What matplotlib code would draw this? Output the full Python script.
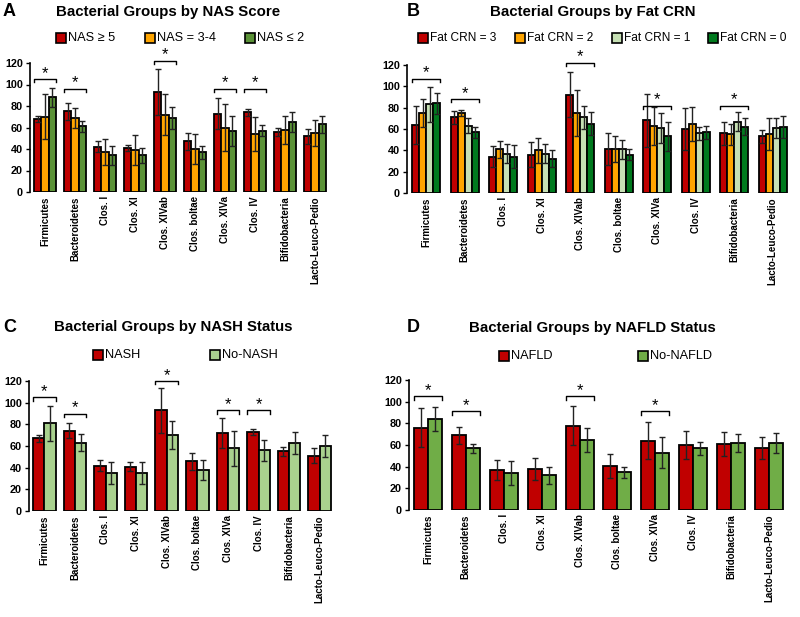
import matplotlib
matplotlib.use('Agg')
import matplotlib.pyplot as plt
import numpy as np
from matplotlib.patches import Rectangle

plt.rcParams['font.family'] = ['Liberation Sans', 'DejaVu Sans']

categories = ['Firmicutes', 'Bacteroidetes', 'Clos. I', 'Clos. XI', 'Clos. XIVab',
              'Clos. boltae', 'Clos. XIVa', 'Clos. IV', 'Bifidobacteria', 'Lacto-Leuco-Pedio']

# A: NAS score
nas_labels = ['NAS \u2265 5', 'NAS = 3-4', 'NAS \u2264 2']
nas_colors = ['#C00000', '#FFA500', '#5B9237']
nas_mean = [[68, 75, 42, 41, 93, 47, 73, 74, 56, 52],
            [70, 69, 37, 39, 72, 40, 60, 54, 58, 55],
            [88, 61, 34, 34, 69, 37, 57, 57, 65, 63]]
nas_err = [[3, 8, 5, 3, 21, 8, 14, 3, 4, 7],
           [21, 9, 12, 14, 19, 14, 22, 16, 13, 12],
           [9, 5, 9, 7, 10, 6, 14, 5, 9, 8]]
nas_sig = [(0, 105), (1, 96), (4, 122), (6, 96), (7, 96)]

# B: Fat CRN
fat_labels = ['Fat CRN = 3', 'Fat CRN = 2', 'Fat CRN = 1', 'Fat CRN = 0']
fat_colors = ['#C00000', '#FFA500', '#C6E0B4', '#007A1E']
fat_mean = [[64, 71, 34, 36, 92, 41, 68, 60, 56, 53],
            [75, 75, 41, 40, 75, 41, 63, 65, 55, 55],
            [83, 63, 37, 37, 71, 41, 61, 56, 67, 61],
            [84, 57, 34, 32, 65, 36, 53, 57, 62, 62]]
fat_err = [[18, 6, 10, 12, 21, 15, 25, 20, 11, 6],
           [13, 3, 8, 12, 22, 12, 18, 16, 10, 15],
           [16, 7, 9, 9, 11, 9, 14, 6, 9, 9],
           [10, 5, 11, 8, 11, 5, 14, 6, 8, 10]]
fat_sig = [(0, 107), (1, 88), (4, 122), (6, 82), (8, 82)]

# C: NASH status
nash_labels = ['NASH', 'No-NASH']
nash_colors = ['#C00000', '#A9D18E']
nash_mean = [[67, 74, 42, 41, 93, 46, 72, 73, 55, 51],
             [81, 63, 35, 35, 70, 38, 58, 56, 63, 60]]
nash_err = [[3, 7, 5, 4, 21, 8, 14, 3, 4, 7],
            [16, 8, 10, 10, 13, 9, 16, 10, 10, 10]]
nash_sig = [(0, 105), (1, 90), (4, 120), (6, 93), (7, 93)]

# D: NAFLD status
nafld_labels = ['NAFLD', 'No-NAFLD']
nafld_colors = ['#C00000', '#70AD47']
nafld_mean = [[76, 69, 37, 38, 78, 41, 64, 60, 61, 57],
              [84, 57, 34, 32, 65, 35, 53, 57, 62, 62]]
nafld_err = [[18, 8, 9, 10, 18, 11, 17, 13, 11, 10],
             [11, 4, 11, 8, 11, 5, 14, 6, 8, 9]]
nafld_sig = [(0, 105), (1, 91), (4, 105), (6, 91)]

# letter, title, series..., axes box (px: left, bottom, width, height), letter pos, title pos,
# legend patch x positions, legend y, legend font size
panels = [
    ('A', 'Bacterial Groups by NAS Score', nas_labels, nas_colors, nas_mean, nas_err, nas_sig,
     [30, 192, 300, 129], (3, 12), (168, 12), [56, 145, 245], 38, 9.2),
    ('B', 'Bacterial Groups by Fat CRN', fat_labels, fat_colors, fat_mean, fat_err, fat_sig,
     [407, 193, 385, 128], (407, 12), (593, 12), [418, 515, 612, 708], 38, 8.6),
    ('C', 'Bacterial Groups by NASH Status', nash_labels, nash_colors, nash_mean, nash_err, nash_sig,
     [29, 511, 306, 130], (3, 327), (173, 327), [93, 210], 355, 9.2),
    ('D', 'Bacterial Groups by NAFLD Status', nafld_labels, nafld_colors, nafld_mean, nafld_err, nafld_sig,
     [409, 510, 379, 130], (407, 328), (592, 328), [499, 638], 356, 9.2),
]

W, H = 800, 617
fig = plt.figure(figsize=(8, 6.17), dpi=100)

for letter, title, labels, colors, means, errs, sigs, box, lpos, tpos, legx, legy, legfs in panels:
    x0, yb, w, h = box
    ax = fig.add_axes([x0 / W, (H - yb) / H, w / W, h / H])
    n = len(labels)
    x = np.arange(len(categories))
    grp = 0.74
    bw = grp / n
    for i in range(n):
        off = -grp / 2 + bw * (i + 0.5)
        ax.bar(x + off, means[i], bw, color=colors[i], edgecolor='black', linewidth=1.3,
               yerr=errs[i], error_kw=dict(ecolor='#222222', elinewidth=1, capsize=2, capthick=1))
    for g, yy in sigs:
        xl, xr = g - grp / 2, g + grp / 2
        ax.plot([xl, xl, xr, xr], [yy - 3, yy, yy, yy - 3], color='black', lw=1, clip_on=False)
        ax.text(g, yy - 1.5, '*', ha='center', va='bottom', fontsize=12)
    ax.set_xlim(-0.5, len(categories) - 0.5)
    ax.set_ylim(0, 120)
    ax.set_yticks(range(0, 121, 20))
    ax.set_xticks(x)
    ax.set_xticklabels(categories, rotation=90, fontsize=7, fontweight='bold')
    for t in ax.get_yticklabels():
        t.set_fontweight('bold')
        t.set_fontsize(7.8)
    ax.tick_params(axis='x', length=0, pad=3)
    ax.tick_params(axis='y', length=3, width=1, pad=2)
    for s in ['top', 'right', 'bottom']:
        ax.spines[s].set_visible(False)
    ax.spines['left'].set_linewidth(1.2)
    ax.patch.set_alpha(0)

    fig.text(lpos[0] / W, 1 - lpos[1] / H, letter, fontsize=13, fontweight='bold',
             ha='left', va='center')
    fig.text(tpos[0] / W, 1 - tpos[1] / H, title, fontsize=10.8, fontweight='bold',
             ha='center', va='center')
    for i, lab in enumerate(labels):
        px = legx[i]
        fig.patches.append(Rectangle((px / W, 1 - (legy + 5) / H), 10 / W, 10 / H,
                                     transform=fig.transFigure, facecolor=colors[i],
                                     edgecolor='black', linewidth=1.2))
        fig.text((px + 12) / W, 1 - legy / H, lab, fontsize=legfs, ha='left', va='center')

fig.savefig('out.png', dpi=100)
